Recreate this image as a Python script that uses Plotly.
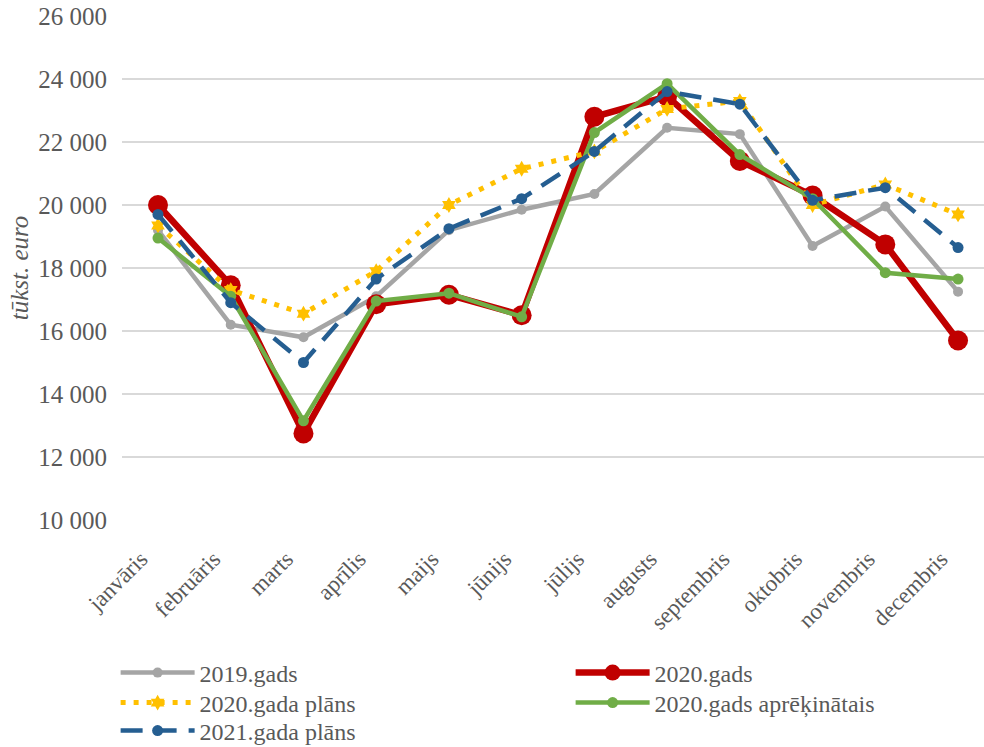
import plotly.graph_objects as go

months = ["janvāris", "februāris", "marts", "aprīlis", "maijs", "jūnijs",
          "jūlijs", "augusts", "septembris", "oktobris", "novembris", "decembris"]

y2019 = [19200, 16200, 15800, 17100, 19200, 19850, 20350, 22450, 22250, 18700, 19950, 17250]
y2020 = [20000, 17450, 12750, 16850, 17150, 16500, 22800, 23450, 21400, 20300, 18750, 15700]
plan2020 = [19350, 17300, 16550, 17900, 20000, 21150, 21700, 23050, 23300, 20000, 20650, 19700]
calc2020 = [18950, 17100, 13150, 16950, 17200, 16450, 22300, 23850, 21600, 20200, 17850, 17650]
plan2021 = [19700, 16900, 15000, 17650, 19250, 20200, 21700, 23600, 23200, 20150, 20550, 18650]

yticks = [10000, 12000, 14000, 16000, 18000, 20000, 22000, 24000, 26000]
ytick_text = ["10 000", "12 000", "14 000", "16 000", "18 000", "20 000", "22 000", "24 000", "26 000"]

FONT = "Liberation Serif, Times New Roman, serif"
TXT = "#595959"

fig = go.Figure()
fig.add_trace(go.Scatter(x=months, y=y2019, name="2019.gads", mode="lines+markers",
                         legend="legend",
                         line=dict(color="#A5A5A5", width=4.5),
                         marker=dict(size=10, color="#A5A5A5")))
fig.add_trace(go.Scatter(x=months, y=y2020, name="2020.gads", mode="lines+markers",
                         legend="legend",
                         line=dict(color="#C00000", width=6.5),
                         marker=dict(size=20, color="#C00000")))
fig.add_trace(go.Scatter(x=months, y=plan2020, name="2020.gada plāns", mode="lines+markers",
                         legend="legend2",
                         line=dict(color="#FFC000", width=5, dash="5px,8px"),
                         marker=dict(size=12, color="#FFC000", symbol="hexagram")))
fig.add_trace(go.Scatter(x=months, y=calc2020, name="2020.gads aprēķinātais", mode="lines+markers",
                         legend="legend2",
                         line=dict(color="#70AD47", width=4.5),
                         marker=dict(size=11, color="#70AD47")))
fig.add_trace(go.Scatter(x=months, y=plan2021, name="2021.gada plāns", mode="lines+markers",
                         legend="legend3",
                         line=dict(color="#255E91", width=4.5, dash="22px,12px"),
                         marker=dict(size=11, color="#255E91")))

def leg(yc):
    return dict(orientation="h", x=-0.0074, xanchor="left", y=yc, yanchor="middle",
                entrywidth=366, entrywidthmode="pixels",
                font=dict(family=FONT, size=24, color=TXT),
                tracegroupgap=0, itemwidth=74, bgcolor="rgba(0,0,0,0)")

fig.update_layout(
    width=984, height=747,
    margin=dict(l=122, r=0, t=16, b=227, autoexpand=False),
    plot_bgcolor="white", paper_bgcolor="white",
    font=dict(family=FONT, color=TXT, size=20),
    showlegend=True,
    legend=leg(-0.3036),
    legend2=leg(-0.3631),
    legend3=leg(-0.4187),
)
fig.update_xaxes(range=[-0.495, 11.357], showgrid=False, showline=False, ticks="",
                 tickangle=-45, ticklabelstandoff=20, ticklabelshift=-17,
                 tickfont=dict(family=FONT, size=23, color=TXT))
fig.update_yaxes(range=[10000, 26000], tickvals=yticks, ticktext=ytick_text,
                 showgrid=True, gridcolor="#D9D9D9", gridwidth=2, zeroline=False,
                 showline=False, ticks="", ticklabelstandoff=14,
                 tickfont=dict(family=FONT, size=25, color=TXT),
                 title=dict(text="tūkst. euro", standoff=2,
                            font=dict(family=FONT, size=25, color=TXT, style="italic")))

fig.write_html("out.html", config={"displayModeBar": False},
               post_script="document.body.style.margin='0';")
